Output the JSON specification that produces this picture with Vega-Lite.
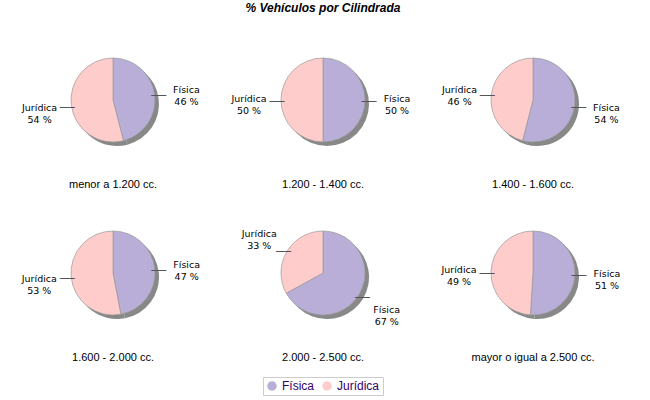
{
  "$schema": "https://vega.github.io/schema/vega-lite/v6.json",
  "background": "white",
  "padding": {"left": 8, "top": 2, "right": 8, "bottom": 2},
  "title": {"text": "% Vehículos por Cilindrada", "fontSize": 12, "fontStyle": "italic", "fontWeight": "bold", "font": "Liberation Sans", "color": "black", "offset": 10, "anchor": "middle"},
  "data": {"values": [
    {"rango": "menor a 1.200 cc.", "tipo": "Física", "pct": 46},
    {"rango": "menor a 1.200 cc.", "tipo": "Jurídica", "pct": 54},
    {"rango": "1.200 - 1.400 cc.", "tipo": "Física", "pct": 50},
    {"rango": "1.200 - 1.400 cc.", "tipo": "Jurídica", "pct": 50},
    {"rango": "1.400 - 1.600 cc.", "tipo": "Física", "pct": 54},
    {"rango": "1.400 - 1.600 cc.", "tipo": "Jurídica", "pct": 46},
    {"rango": "1.600 - 2.000 cc.", "tipo": "Física", "pct": 47},
    {"rango": "1.600 - 2.000 cc.", "tipo": "Jurídica", "pct": 53},
    {"rango": "2.000 - 2.500 cc.", "tipo": "Física", "pct": 67},
    {"rango": "2.000 - 2.500 cc.", "tipo": "Jurídica", "pct": 33},
    {"rango": "mayor o igual a 2.500 cc.", "tipo": "Física", "pct": 51},
    {"rango": "mayor o igual a 2.500 cc.", "tipo": "Jurídica", "pct": 49}
  ]},
  "transform": [
    {"calculate": "[datum.tipo, datum.pct + ' %']", "as": "etiqueta"}
  ],
  "facet": {
    "field": "rango",
    "type": "nominal",
    "sort": ["menor a 1.200 cc.", "1.200 - 1.400 cc.", "1.400 - 1.600 cc.", "1.600 - 2.000 cc.", "2.000 - 2.500 cc.", "mayor o igual a 2.500 cc."],
    "header": {"title": null, "labelOrient": "bottom", "labelFontSize": 11, "labelFont": "Liberation Sans", "labelColor": "black", "labelPadding": 4}
  },
  "columns": 3,
  "spacing": {"column": 0, "row": 8},
  "spec": {
    "width": 210,
    "height": 150,
    "layer": [
      {
        "mark": {"type": "arc", "outerRadius": 42, "color": "#888888", "xOffset": 4, "yOffset": 4},
        "encoding": {"theta": {"field": "pct", "type": "quantitative", "stack": true}}
      },
      {
        "mark": {"type": "arc", "outerRadius": 42, "stroke": "#999999", "strokeWidth": 0.7},
        "encoding": {
          "theta": {"field": "pct", "type": "quantitative", "stack": true},
          "color": {
            "field": "tipo",
            "type": "nominal",
            "title": null,
            "scale": {"domain": ["Física", "Jurídica"], "range": ["#b8aed8", "#ffcccc"]},
            "legend": {"orient": "bottom", "offset": 14, "direction": "horizontal", "symbolType": "circle", "symbolSize": 90, "symbolStrokeWidth": 0, "labelFontSize": 12, "labelFont": "Liberation Sans", "labelColor": "#330066", "strokeColor": "#cccccc", "padding": 3, "columnPadding": 6}
          },
          "order": {"field": "tipo"}
        }
      },
      {
        "mark": {"type": "text", "radius": 46, "text": "—", "fontSize": 15, "color": "#555555"},
        "encoding": {
          "theta": {"field": "pct", "type": "quantitative", "stack": true},
          "order": {"field": "tipo"}
        }
      },
      {
        "mark": {"type": "text", "radius": 74, "fontSize": 9.5, "font": "DejaVu Sans", "color": "black", "lineHeight": 12, "baseline": "middle", "dy": -1},
        "encoding": {
          "theta": {"field": "pct", "type": "quantitative", "stack": true},
          "text": {"field": "etiqueta"},
          "order": {"field": "tipo"}
        }
      }
    ]
  },
  "config": {
    "view": {"stroke": null},
    "legend": {"layout": {"bottom": {"anchor": "middle"}}}
  }
}
